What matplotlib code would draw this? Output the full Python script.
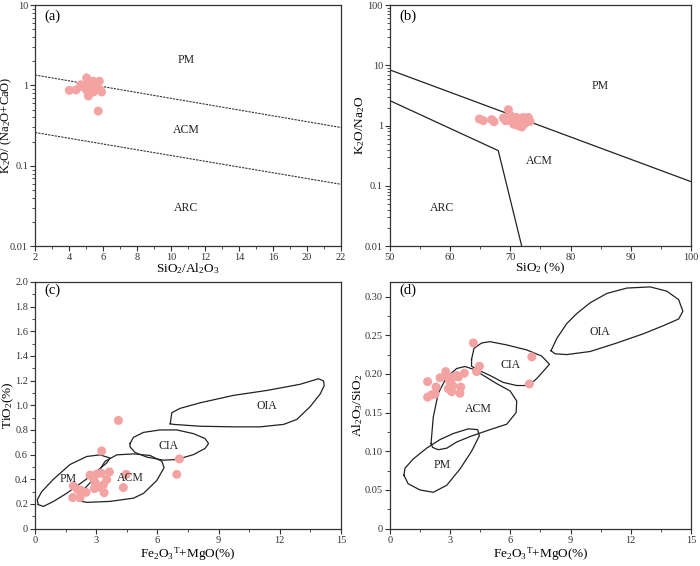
import matplotlib

matplotlib.use("Agg")
import matplotlib.pyplot as plt
from matplotlib.ticker import FixedLocator, LogLocator, MultipleLocator, NullFormatter

plt.rcParams["font.family"] = ["Liberation Serif", "DejaVu Serif"]
plt.rcParams["mathtext.fontset"] = "custom"
plt.rcParams["mathtext.rm"] = "Liberation Serif"
plt.rcParams["mathtext.it"] = "Liberation Serif:italic"

PINK = "#f4a3a3"

# ---- (a) K2O/(Na2O+CaO) vs SiO2/Al2O3 ----
A_X = [4.02, 4.41, 4.69, 5.04, 4.94, 5.08, 5.14, 5.43, 5.34, 5.24, 5.78, 5.63, 5.83, 5.92, 5.72, 4.85, 5.44, 5.2]
A_Y = [0.87, 0.88, 1.02, 1.24, 1.00, 0.85, 0.74, 1.13, 0.95, 0.87, 1.13, 0.93, 0.88, 0.83, 0.48, 0.95, 0.83, 1.05]
A_UPPER_X, A_UPPER_Y = [2, 20], [1.35, 0.30]
A_LOWER_X, A_LOWER_Y = [2, 20], [0.26, 0.059]
A_XTICKS = [2, 4, 6, 8, 10, 12, 14, 16, 18, 20]
A_XTICKLABELS = ["2", "4", "6", "8", "10", "12", "14", "16", "20", "22"]
A_LABELS = [("PM", 10.9, 2.1), ("ACM", 10.9, 0.28), ("ARC", 10.9, 0.03)]

# ---- (b) K2O/Na2O vs SiO2 ----
B_X = [64.86, 65.52, 66.91, 67.29, 68.85, 69.23, 69.68, 70.07, 69.96, 70.51, 70.79, 71.06,
       71.62, 71.90, 72.17, 72.45, 72.73, 73.0, 73.28, 71.34, 71.9, 70.6]
B_Y = [1.29, 1.21, 1.26, 1.16, 1.34, 1.21, 1.84, 1.46, 1.21, 1.29, 1.09, 1.37,
       1.14, 1.21, 1.37, 1.09, 1.24, 1.37, 1.18, 1.0, 0.95, 1.05]
B_UPPER_X, B_UPPER_Y = [50, 100], [8.4, 0.118]
B_LOWER_X, B_LOWER_Y = [50, 68.0, 71.9], [2.6, 0.385, 0.01]
B_LABELS = [("PM", 84.9, 4.6), ("ACM", 74.8, 0.256), ("ARC", 58.7, 0.043)]

# ---- (c) TiO2 vs Fe2O3T+MgO ----
C_X = [1.88, 1.85, 2.08, 2.21, 2.24, 2.50, 2.70, 2.83, 2.94, 2.91, 3.03, 3.12,
       3.24, 3.27, 3.35, 3.39, 3.52, 3.65, 4.09, 4.33, 4.47, 6.95, 7.08]
C_Y = [0.346, 0.252, 0.317, 0.252, 0.312, 0.294, 0.434, 0.416, 0.377, 0.325, 0.442, 0.336,
       0.45, 0.63, 0.356, 0.291, 0.398, 0.46, 0.877, 0.333, 0.44, 0.44, 0.565]
C_OIA_X = [6.63, 6.71, 7.12, 8.10, 9.73, 11.37, 13.0, 13.9, 14.15, 14.18, 13.99, 13.5,
           12.84, 12.19, 11.04, 9.73, 8.10, 6.79, 6.63]
C_OIA_Y = [0.85, 0.94, 0.975, 1.02, 1.08, 1.12, 1.17, 1.215, 1.197, 1.158, 1.093, 0.99,
           0.885, 0.845, 0.825, 0.825, 0.83, 0.845, 0.85]
C_CIA_X = [4.66, 4.83, 5.32, 6.13, 6.95, 7.77, 8.34, 8.51, 8.34, 7.77, 6.95, 6.30, 5.48, 4.91, 4.66, 4.66]
C_CIA_Y = [0.69, 0.74, 0.78, 0.80, 0.80, 0.77, 0.73, 0.69, 0.65, 0.60, 0.56, 0.555, 0.58, 0.617, 0.663, 0.69]
C_PM_X = [0.16, 0.41, 0.90, 1.55, 2.21, 2.86, 3.52, 3.68, 3.19, 2.54, 1.72, 0.90, 0.33, 0.11, 0.16]
C_PM_Y = [0.195, 0.18, 0.22, 0.286, 0.364, 0.442, 0.533, 0.572, 0.598, 0.585, 0.52, 0.40, 0.30, 0.234, 0.195]
C_ACM_X = [2.13, 2.54, 3.68, 4.83, 5.32, 5.97, 6.33, 6.22, 5.64, 4.83, 4.01, 3.44, 2.86, 2.29, 2.13, 2.13]
C_ACM_Y = [0.226, 0.213, 0.221, 0.247, 0.286, 0.39, 0.494, 0.546, 0.593, 0.606, 0.598, 0.546, 0.40, 0.30, 0.252, 0.226]
C_LABELS = [("PM", 1.64, 0.40), ("ACM", 4.69, 0.41), ("CIA", 6.54, 0.67), ("OIA", 11.37, 0.99)]

# ---- (d) Al2O3/SiO2 vs Fe2O3T+MgO ----
D_X = [1.88, 1.88, 2.08, 2.25, 2.30, 2.50, 2.78, 2.88, 2.91, 2.99, 3.08, 3.13,
       3.16, 3.33, 3.41, 3.49, 3.53, 3.71, 4.16, 4.32, 4.46, 6.95, 7.07]
D_Y = [0.190, 0.170, 0.173, 0.174, 0.183, 0.195, 0.203, 0.196, 0.181, 0.19, 0.177, 0.185,
       0.196, 0.198, 0.196, 0.175, 0.183, 0.201, 0.240, 0.203, 0.21, 0.187, 0.222]
D_OIA_X = [8.03, 8.32, 8.81, 9.31, 9.98, 10.81, 11.81, 12.97, 13.80, 14.39, 14.60, 14.39,
           13.64, 12.64, 11.31, 9.98, 8.81, 8.23, 8.03]
D_OIA_Y = [0.230, 0.246, 0.265, 0.278, 0.292, 0.304, 0.311, 0.3125, 0.307, 0.296, 0.281, 0.271,
           0.2625, 0.252, 0.240, 0.229, 0.225, 0.226, 0.230]
D_CIA_X = [4.07, 4.19, 4.57, 4.99, 5.82, 6.82, 7.57, 7.95, 7.73, 7.32, 6.90, 6.32, 5.65, 4.99, 4.32, 4.07, 4.07]
D_CIA_Y = [0.219, 0.233, 0.240, 0.2417, 0.2375, 0.231, 0.223, 0.2125, 0.206, 0.194, 0.185, 0.185,
           0.189, 0.198, 0.206, 0.21, 0.219]
D_ACM_X = [2.05, 2.16, 2.41, 2.83, 3.33, 3.74, 4.16, 4.66, 5.32, 5.99, 6.32, 6.29, 5.82, 4.99,
           3.99, 3.33, 2.83, 2.41, 2.13, 2.05]
D_ACM_Y = [0.110, 0.144, 0.175, 0.196, 0.207, 0.2096, 0.206, 0.198, 0.1875, 0.178, 0.165, 0.15,
           0.135, 0.128, 0.119, 0.112, 0.104, 0.102, 0.105, 0.110]
D_PM_X = [0.70, 0.91, 1.50, 2.16, 2.83, 3.49, 4.07, 4.46, 4.37, 3.91, 3.16, 2.49, 1.83, 1.16, 0.75, 0.70]
D_PM_Y = [0.069, 0.058, 0.05, 0.047, 0.056, 0.077, 0.10, 0.12, 0.128, 0.129, 0.123, 0.115,
          0.104, 0.09, 0.078, 0.069]
D_LABELS = [("PM", 2.58, 0.082), ("ACM", 4.41, 0.155), ("CIA", 5.99, 0.211), ("OIA", 10.48, 0.254)]

LABEL_FS = 9.5
TICK_FS = 7.5
REGION_FS = 8.5


def style_axes(ax):
    for sp in ax.spines.values():
        sp.set_linewidth(0.9)
        sp.set_color("#333333")
    ax.tick_params(which="both", direction="out", top=False, right=False,
                   labelsize=TICK_FS, colors="#333333", pad=1.5)
    ax.tick_params(which="major", length=3.5, width=0.8)
    ax.tick_params(which="minor", length=2, width=0.6)


def put_labels(ax, labels):
    for txt, x, y in labels:
        ax.text(x, y, txt, ha="center", va="center", fontsize=REGION_FS, color="#222222")


def place_axis_labels(ax, xlabel, ylabel, xpos, ypos, yfs=LABEL_FS):
    ax.set_xlabel(xlabel, fontsize=LABEL_FS)
    ax.set_ylabel(ylabel, fontsize=yfs)
    ax.xaxis.label.set_va("center")
    ax.yaxis.label.set_va("center")
    ax.xaxis.set_label_coords(0.5, xpos)
    ax.yaxis.set_label_coords(ypos, 0.5)


fig = plt.figure(figsize=(7.0, 5.66), dpi=100)
ax_a = fig.add_axes([0.050, 0.565, 0.437, 0.426])
ax_b = fig.add_axes([0.557, 0.565, 0.430, 0.426])
ax_c = fig.add_axes([0.050, 0.066, 0.437, 0.436])
ax_d = fig.add_axes([0.557, 0.066, 0.430, 0.436])

# (a)
ax_a.set_yscale("log")
ax_a.plot(A_UPPER_X, A_UPPER_Y, color="#333333", lw=0.8, ls=(0, (2, 1)))
ax_a.plot(A_LOWER_X, A_LOWER_Y, color="#333333", lw=0.8, ls=(0, (2, 1)))
ax_a.scatter(A_X, A_Y, s=42, color=PINK, edgecolors="none", zorder=3)
ax_a.set_xlim(2, 20)
ax_a.set_ylim(0.01, 10)
ax_a.xaxis.set_major_locator(FixedLocator(A_XTICKS))
ax_a.set_xticklabels(A_XTICKLABELS)
ax_a.xaxis.set_minor_locator(MultipleLocator(1))
ax_a.set_yticks([0.01, 0.1, 1, 10])
ax_a.set_yticklabels(["0.01", "0.1", "1", "10"])
ax_a.yaxis.set_minor_locator(LogLocator(base=10, subs=range(2, 10)))
ax_a.yaxis.set_minor_formatter(NullFormatter())
put_labels(ax_a, A_LABELS)
place_axis_labels(ax_a, "SiO$_\\mathrm{2}$/Al$_\\mathrm{2}$O$_\\mathrm{3}$",
                  "K$_\\mathrm{2}$O/ (Na$_\\mathrm{2}$O+CaO)", -0.091, -0.094, yfs=9)
ax_a.text(0.03, 0.955, "(a)", transform=ax_a.transAxes, fontsize=10.5, va="center")

# (b)
ax_b.set_yscale("log")
ax_b.plot(B_UPPER_X, B_UPPER_Y, color="#222222", lw=0.9)
ax_b.plot(B_LOWER_X, B_LOWER_Y, color="#222222", lw=0.9)
ax_b.scatter(B_X, B_Y, s=42, color=PINK, edgecolors="none", zorder=3)
ax_b.set_xlim(50, 100)
ax_b.set_ylim(0.01, 100)
ax_b.xaxis.set_major_locator(MultipleLocator(10))
ax_b.xaxis.set_minor_locator(MultipleLocator(5))
ax_b.set_yticks([0.01, 0.1, 1, 10, 100])
ax_b.set_yticklabels(["0.01", "0.1", "1", "10", "100"])
ax_b.yaxis.set_minor_locator(LogLocator(base=10, subs=range(2, 10)))
ax_b.yaxis.set_minor_formatter(NullFormatter())
put_labels(ax_b, B_LABELS)
place_axis_labels(ax_b, "SiO$_\\mathrm{2}$ (%)", "K$_\\mathrm{2}$O/Na$_\\mathrm{2}$O", -0.091, -0.10)
ax_b.text(0.03, 0.955, "(b)", transform=ax_b.transAxes, fontsize=10.5, va="center")

# (c)
for xs, ys in [(C_OIA_X, C_OIA_Y), (C_CIA_X, C_CIA_Y), (C_PM_X, C_PM_Y), (C_ACM_X, C_ACM_Y)]:
    ax_c.plot(xs, ys, color="#222222", lw=0.9)
ax_c.scatter(C_X, C_Y, s=42, color=PINK, edgecolors="none", zorder=3)
ax_c.set_xlim(0, 15)
ax_c.set_ylim(0, 2.0)
ax_c.xaxis.set_major_locator(MultipleLocator(3))
ax_c.xaxis.set_minor_locator(MultipleLocator(1.5))
ax_c.yaxis.set_major_locator(MultipleLocator(0.2))
ax_c.yaxis.set_minor_locator(MultipleLocator(0.1))
ax_c.yaxis.set_major_formatter(lambda v, p: "0" if v == 0 else f"{v:.1f}")
put_labels(ax_c, C_LABELS)
place_axis_labels(ax_c, "Fe$_\\mathrm{2}$O$_\\mathrm{3}$$^\\mathrm{T}$+MgO(%)",
                  "TiO$_\\mathrm{2}$(%)", -0.105, -0.088)
ax_c.text(0.03, 0.965, "(c)", transform=ax_c.transAxes, fontsize=10.5, va="center")

# (d)
for xs, ys in [(D_OIA_X, D_OIA_Y), (D_CIA_X, D_CIA_Y), (D_ACM_X, D_ACM_Y), (D_PM_X, D_PM_Y)]:
    ax_d.plot(xs, ys, color="#222222", lw=0.9)
ax_d.scatter(D_X, D_Y, s=42, color=PINK, edgecolors="none", zorder=3)
ax_d.set_xlim(0, 15)
ax_d.set_ylim(0, 0.319)
ax_d.xaxis.set_major_locator(MultipleLocator(3))
ax_d.xaxis.set_minor_locator(MultipleLocator(1.5))
ax_d.yaxis.set_major_locator(MultipleLocator(0.05))
ax_d.yaxis.set_minor_locator(MultipleLocator(0.025))
ax_d.yaxis.set_major_formatter(lambda v, p: "0" if v == 0 else f"{v:.2f}")
put_labels(ax_d, D_LABELS)
place_axis_labels(ax_d, "Fe$_\\mathrm{2}$O$_\\mathrm{3}$$^\\mathrm{T}$+MgO(%)",
                  "Al$_\\mathrm{2}$O$_\\mathrm{3}$/SiO$_\\mathrm{2}$", -0.105, -0.106)
ax_d.text(0.03, 0.965, "(d)", transform=ax_d.transAxes, fontsize=10.5, va="center")

for ax in (ax_a, ax_b, ax_c, ax_d):
    style_axes(ax)

fig.savefig("out.png", dpi=100)
